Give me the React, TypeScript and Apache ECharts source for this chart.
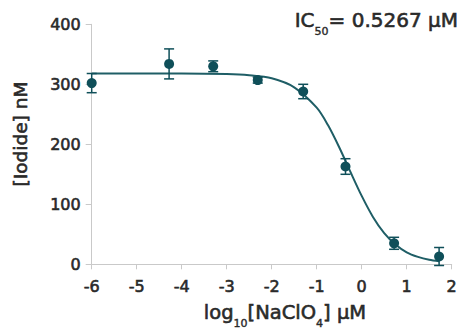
import React, { useEffect, useRef } from "react";
import * as echarts from "echarts";

const xTicks = [-6, -5, -4, -3, -2, -1, 0, 1, 2];
const yTicks = [0, 100, 200, 300, 400];
const pointX = [-6, -4.28, -3.3, -2.31, -1.3, -0.36, 0.72, 1.72];
const pointY = [302, 334, 330, 307, 288, 163, 35, 13];
const pointErr = [16, 25, 9, 5, 12, 13, 10, 15];
const curveX = [-6, -4, -3, -2.5, -2, -1.5, -1, -0.75, -0.5, -0.25, 0, 0.25, 0.5, 0.75, 1, 1.25, 1.5, 1.72];
const curveY = [318, 318, 317, 315, 310, 295, 261, 232, 195, 154, 114, 79, 52, 33, 20, 12.4, 7.5, 5];

const DARK = "#0f4f59";
const LINE = "#1f5e66";
const AXIS = "#c9c9c9";
const TEXT = "#2a2a2a";
const FONT = "DejaVu Sans";
const HEAVY = { textBorderColor: TEXT, textBorderWidth: 0.6 };

export default function App() {
  const ref = useRef<HTMLDivElement>(null);
  useEffect(() => {
    document.body.style.margin = "0";
    if (!ref.current) return;
    const chart = echarts.init(ref.current, null, { renderer: "svg" });
    const points = pointX.map((x, i) => [x, pointY[i], pointErr[i]]);
    const curve = curveX.map((x, i) => [x, curveY[i]]);
    const sub = { fontSize: 11, fontFamily: FONT, fill: TEXT, padding: [0, 0, -7, 0], verticalAlign: "bottom", stroke: TEXT, lineWidth: 0.4 };
    const main = (size: number) => ({ fontSize: size, fontFamily: FONT, fill: TEXT, verticalAlign: "bottom", stroke: TEXT, lineWidth: 0.6 });
    chart.setOption({
      animation: false,
      grid: {
        left: 91.7,
        right: 10.3,
        top: 24.3,
        bottom: 67.7,
        containLabel: false,
        outerBoundsMode: "none",
      },
      xAxis: {
        type: "value",
        min: xTicks[0],
        max: xTicks[xTicks.length - 1],
        interval: 1,
        axisLine: { show: true, onZero: false, lineStyle: { color: AXIS, width: 1 } },
        axisTick: { show: true, length: 5, lineStyle: { color: AXIS } },
        splitLine: { show: false },
        axisLabel: { color: TEXT, fontSize: 16, fontFamily: FONT, margin: 14, ...HEAVY },
      },
      yAxis: {
        type: "value",
        min: yTicks[0],
        max: yTicks[yTicks.length - 1],
        interval: 100,
        axisLine: { show: true, onZero: false, lineStyle: { color: AXIS, width: 1 } },
        axisTick: { show: true, length: 6, lineStyle: { color: AXIS } },
        splitLine: { show: false },
        axisLabel: { color: TEXT, fontSize: 16, fontFamily: FONT, margin: 11, ...HEAVY },
      },
      graphic: [
        {
          type: "text",
          x: 458,
          y: 20,
          style: {
            text: "{a|IC}{s|50}{a|= 0.5267 μM}",
            align: "right",
            verticalAlign: "middle",
            rich: { a: main(20), s: sub },
          },
        },
        {
          type: "text",
          x: 285,
          y: 312,
          style: {
            text: "{a|log}{s|10}{a|[NaClO}{s|4}{a|] μM}",
            align: "center",
            verticalAlign: "middle",
            rich: { a: main(19.5), s: sub },
          },
        },
        {
          type: "text",
          x: 20,
          y: 134,
          rotation: Math.PI / 2,
          style: {
            text: "[Iodide] nM",
            align: "center",
            verticalAlign: "middle",
            fontSize: 18.5,
            fontFamily: FONT,
            fill: TEXT,
            stroke: TEXT,
            lineWidth: 0.6,
          },
        },
      ],
      series: [
        {
          type: "line",
          data: curve,
          smooth: 0.3,
          showSymbol: false,
          symbol: "none",
          lineStyle: { color: LINE, width: 2 },
          z: 2,
        },
        {
          type: "custom",
          data: points,
          z: 3,
          renderItem: (params: any, api: any) => {
            const x = api.value(0);
            const y = api.value(1);
            const e = api.value(2);
            const top = api.coord([x, y + e]);
            const bot = api.coord([x, y - e]);
            const w = 5;
            const st = { stroke: DARK, lineWidth: 1.5 };
            return {
              type: "group",
              children: [
                { type: "line", shape: { x1: top[0], y1: top[1], x2: bot[0], y2: bot[1] }, style: st },
                { type: "line", shape: { x1: top[0] - w, y1: top[1], x2: top[0] + w, y2: top[1] }, style: st },
                { type: "line", shape: { x1: bot[0] - w, y1: bot[1], x2: bot[0] + w, y2: bot[1] }, style: st },
              ],
            };
          },
        },
        {
          type: "scatter",
          data: points.map((p) => [p[0], p[1]]),
          symbol: "circle",
          symbolSize: 10,
          itemStyle: { color: DARK, opacity: 1 },
          z: 4,
        },
      ],
    });
    return () => chart.dispose();
  }, []);
  return <div ref={ref} style={{ width: 462, height: 332 }} />;
}
